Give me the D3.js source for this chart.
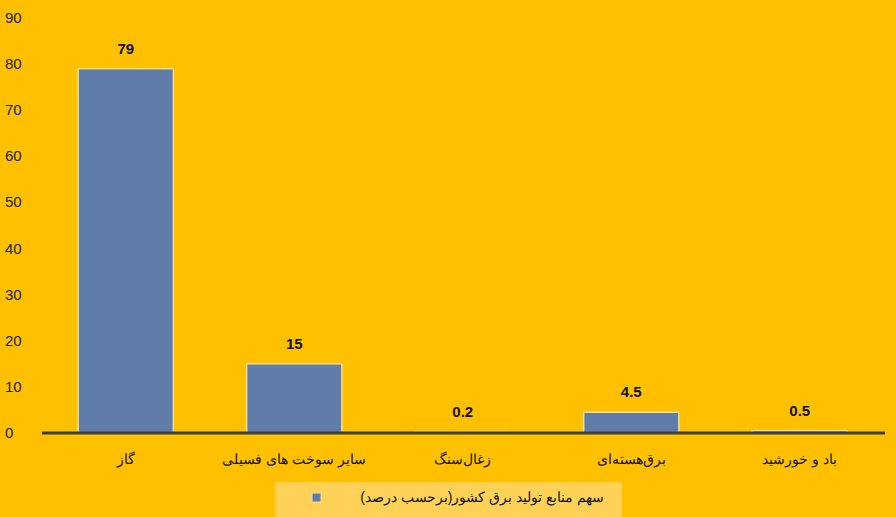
<!DOCTYPE html>
<html><head><meta charset="utf-8">
<script src="https://cdn.jsdelivr.net/npm/d3@7"></script>
<style>body{margin:0;background:#FFC000}</style>
</head><body><svg width="896" height="517"></svg>
<script>
const categories = ['گاز', 'سایر سوخت های فسیلی', 'زغال‌سنگ', 'برق‌هسته‌ای', 'باد و خورشید'];
const values = [79, 15, 0.2, 4.5, 0.5];
const yTicks = [0, 10, 20, 30, 40, 50, 60, 70, 80, 90];
const seriesName = 'سهم منابع تولید برق کشور(برحسب درصد)';

const svg = d3.select('svg');
svg.append('rect').attr('width', 896).attr('height', 517).attr('fill', '#FFC000');

const x = d3.scaleBand().domain(categories).range([41.5, 884]).paddingInner(0.435).paddingOuter(0.2175);
const y = d3.scaleLinear().domain([0, 90]).range([433, 18]);

// y tick labels
svg.selectAll('.yt').data(yTicks).enter().append('text')
    .attr('x', 5).attr('y', d => y(d) + 5)
    .style('font', '15px "Liberation Sans", Arial').style('fill', '#222')
    .text(d => d);

// bars
svg.selectAll('.bar').data(values).enter().append('rect')
    .attr('x', (d, i) => x(categories[i]))
    .attr('y', d => y(d))
    .attr('width', x.bandwidth())
    .attr('height', d => y(0) - y(d))
    .attr('fill', '#5F7DA8').attr('stroke', '#F2DC9A').attr('stroke-width', 1.5);

// value labels
svg.selectAll('.vl').data(values).enter().append('text')
    .attr('x', (d, i) => x(categories[i]) + x.bandwidth() / 2)
    .attr('y', d => y(d) - 15)
    .attr('text-anchor', 'middle')
    .style('font', 'bold 15px "Liberation Sans", Arial').style('fill', '#111')
    .text(d => d);

// zero line
svg.append('line').attr('x1', 42).attr('x2', 885).attr('y1', y(0)).attr('y2', y(0))
    .attr('stroke', '#3f3f3f').attr('stroke-width', 3);

// category labels
svg.selectAll('.cl').data(categories).enter().append('text')
    .attr('x', d => x(d) + x.bandwidth() / 2).attr('y', 464)
    .attr('text-anchor', 'middle').attr('direction', 'rtl')
    .style('font', '14px "Liberation Sans", Arial').style('fill', '#111')
    .text(d => d);

// legend
const lg = svg.append('g');
lg.append('rect').attr('x', 275).attr('y', 482).attr('width', 347).attr('height', 36).attr('fill', '#FFD257');
lg.append('rect').attr('x', 312).attr('y', 493).attr('width', 9).attr('height', 9)
    .attr('fill', '#5F7DA8').attr('stroke', '#F2DC9A');
lg.append('text').attr('x', 604).attr('y', 502).attr('direction', 'rtl').attr('text-anchor', 'start')
    .style('font', '14px "Liberation Sans", Arial').style('fill', '#111')
    .text(seriesName);
</script></body></html>
